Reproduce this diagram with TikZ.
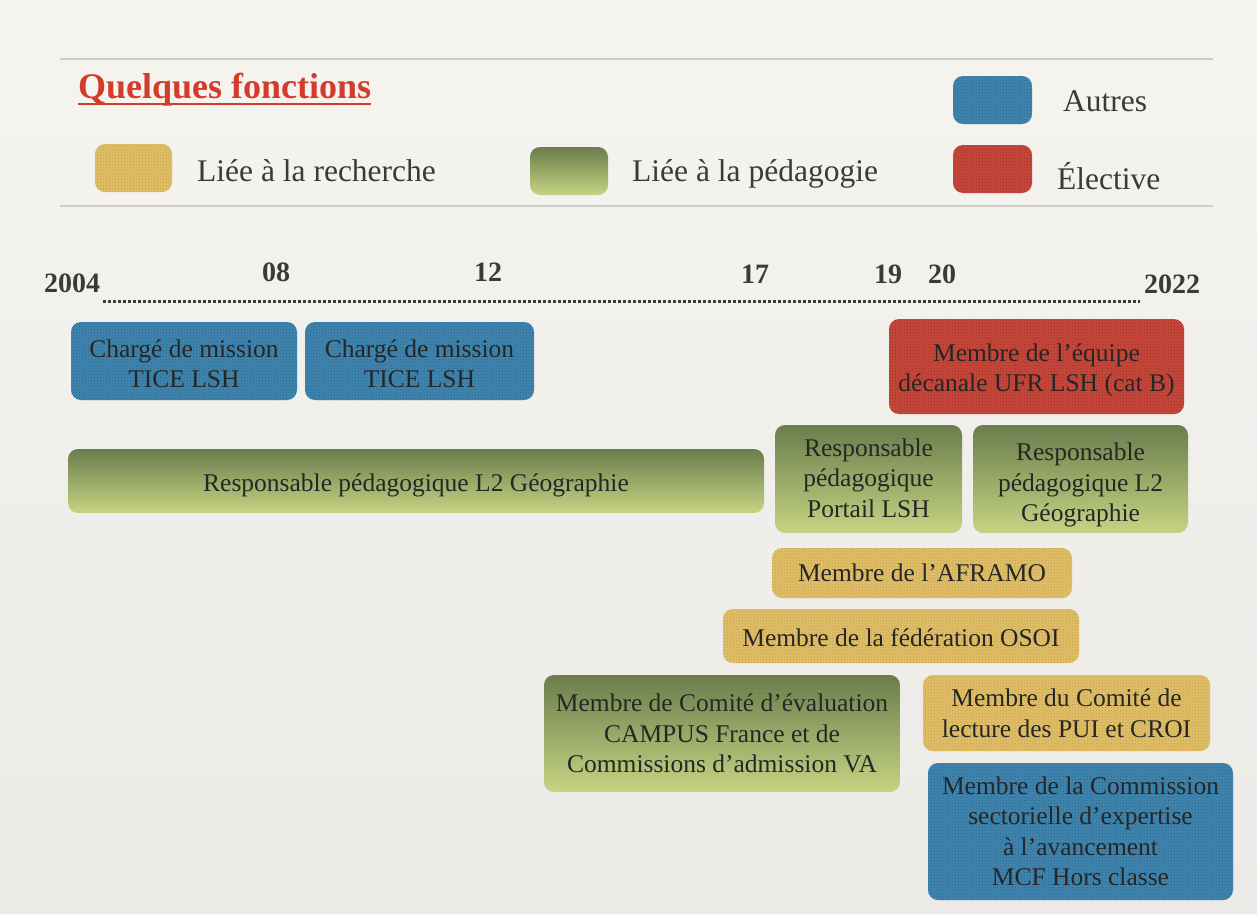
\documentclass[tikz,border=0pt]{standalone}
\usepackage{fontspec}
\setmainfont{Liberation Serif}
\usetikzlibrary{patterns}
\definecolor{bgtop}{HTML}{F6F4EF}
\definecolor{bgbot}{HTML}{ECEAE6}
\definecolor{rule}{HTML}{D0CBC5}
\definecolor{titlered}{HTML}{D33B2C}
\definecolor{txt}{HTML}{3A3A3A}
\definecolor{boxtxt}{HTML}{262626}
\definecolor{cblue}{HTML}{3F86B1}
\definecolor{cred}{HTML}{C9473A}
\definecolor{cyellow}{HTML}{E2BF66}
\definecolor{gtop}{HTML}{6A7D4C}
\definecolor{gbot}{HTML}{C6D483}
\tikzset{
  base box/.style={rounded corners=10pt, inner sep=0pt},
  bluebox/.style={base box, fill=cblue, postaction={pattern=crosshatch dots, pattern color=cblue!72!black}},
  redbox/.style={base box, fill=cred, postaction={pattern=crosshatch dots, pattern color=cred!72!black}},
  yellowbox/.style={base box, fill=cyellow, postaction={pattern=crosshatch dots, pattern color=cyellow!82!black}},
  greenbox/.style={base box, top color=gtop, bottom color=gbot},
  boxtext/.style={inner sep=0pt, align=center, text=boxtxt, font=\fontsize{25.5}{30.5}\selectfont},
  year/.style={font=\fontsize{28}{30}\selectfont\bfseries, text=txt, inner sep=0pt},
  legtext/.style={font=\fontsize{31.5}{34}\selectfont, text=txt, inner sep=0pt, anchor=west},
  sz/.style 2 args={minimum width=#1pt, minimum height=#2pt},
}
\begin{document}
\begin{tikzpicture}[x=1pt,y=-1pt]
\shade[top color=bgtop, bottom color=bgbot] (0,0) rectangle (1257,913);
\useasboundingbox (0,0) rectangle (1257,913);
% rules
\coordinate (r1a) at (60,59); \coordinate (r1b) at (1213,59);
\coordinate (r2a) at (60,206); \coordinate (r2b) at (1213,206);
\draw[rule, line width=1.5pt] (r1a) -- (r1b);
\draw[rule, line width=1.5pt] (r2a) -- (r2b);
% title
\node[anchor=base west, inner sep=0pt, text=titlered, font=\fontsize{36}{38}\selectfont\bfseries] (title) at (78,98) {Quelques fonctions};
\draw[titlered, line width=2.5pt] ([yshift=-6pt]title.base west) -- ([yshift=-6pt]title.base east);
% legend
\node[yellowbox, sz={77}{48}] (ly) at (133.5,168) {};
\node[legtext] (lyt) at (197,171) {Liée à la recherche};
\node[greenbox, sz={78}{48}] (lg) at (569,171) {};
\node[legtext] (lgt) at (632,174) {Liée à la pédagogie};
\node[bluebox, sz={79}{48}] (lb) at (992.5,100) {};
\node[legtext] (lbt) at (1063,101) {Autres};
\node[redbox, sz={79}{48}] (lr) at (992.5,169) {};
\node[legtext] (lrt) at (1057,176) {Élective};
% timeline
\coordinate (tl1) at (103,301); \coordinate (tl2) at (1140,301);
\draw[txt, line width=3pt, dash pattern=on 2.5pt off 2.5pt] (tl1) -- (tl2);
\node[year] (y04) at (72,283) {2004};
\node[year] (y08) at (276,272) {08};
\node[year] (y12) at (488,272) {12};
\node[year] (y17) at (755,274) {17};
\node[year] (y19) at (888,274) {19};
\node[year] (y20) at (942,274) {20};
\node[year] (y22) at (1172,284) {2022};
% boxes
\node[bluebox, sz={226}{78}] (b1) at (184,361) {};
\node[boxtext] (b1t) at ([yshift=-3pt]b1.center) {Chargé de mission\\TICE LSH};
\node[bluebox, sz={229}{78}] (b2) at (419.5,361) {};
\node[boxtext] (b2t) at ([yshift=-3pt]b2.center) {Chargé de mission\\TICE LSH};
\node[redbox, sz={295}{95}] (e1) at (1036.5,366.5) {};
\node[boxtext] (e1t) at ([yshift=-4pt]e1.center) {Membre de l’équipe\\décanale UFR LSH (cat B)};
\node[greenbox, sz={696}{64}] (g1) at (416,481) {};
\node[boxtext] (g1t) at ([yshift=-4pt]g1.center) {Responsable pédagogique L2 Géographie};
\node[greenbox, sz={187}{108}] (g2) at (868.5,479) {};
\node[boxtext] (g2t) at ([yshift=1pt]g2.center) {Responsable\\pédagogique\\Portail LSH};
\node[greenbox, sz={215}{108}] (g3) at (1080.5,479) {};
\node[boxtext] (g3t) at ([yshift=-6pt]g3.center) {Responsable\\pédagogique L2\\Géographie};
\node[yellowbox, sz={300}{50}] (a1) at (922,573) {};
\node[boxtext] (a1t) at (a1.center) {Membre de l’AFRAMO};
\node[yellowbox, sz={356}{54}] (a2) at (901,636) {};
\node[boxtext] (a2t) at ([yshift=-2pt]a2.center) {Membre de la fédération OSOI};
\node[greenbox, sz={356}{117}] (g4) at (722,733.5) {};
\node[boxtext] (g4t) at (g4.center) {Membre de Comité d’évaluation\\CAMPUS France et de\\Commissions d’admission VA};
\node[yellowbox, sz={287}{76}] (a3) at (1066.5,713) {};
\node[boxtext] (a3t) at (a3.center) {Membre du Comité de\\lecture des PUI et CROI};
\node[bluebox, sz={305}{137}] (b3) at (1080.5,831.5) {};
\node[boxtext] (b3t) at (b3.center) {Membre de la Commission\\sectorielle d’expertise\\à l’avancement\\MCF Hors classe};
\end{tikzpicture}
\end{document}
